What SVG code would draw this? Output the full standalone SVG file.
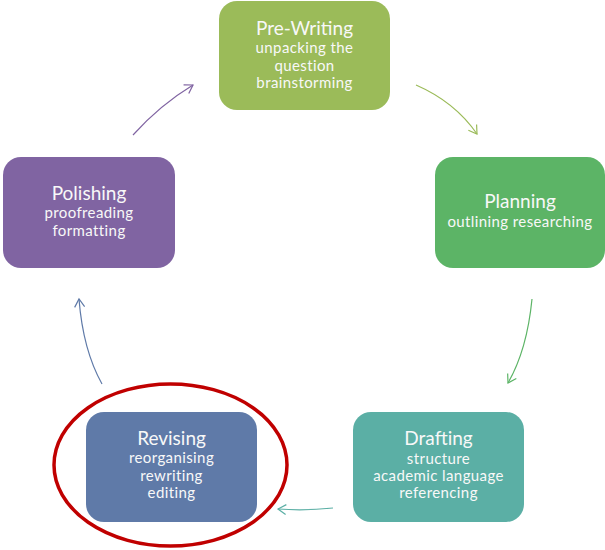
<svg xmlns="http://www.w3.org/2000/svg" width="605" height="550" viewBox="0 0 605 550">
<style>
.box{stroke:none}
.t{font-family:Lato,"Noto Sans",sans-serif;fill:#F8F8F8;text-anchor:middle}
.h{font-size:19px}
.s{font-size:15px;letter-spacing:0.4px}
.c{fill:none;stroke-width:1.2}
</style>
<defs>
<marker id="mG1" markerWidth="12" markerHeight="12" refX="10" refY="6" orient="auto" markerUnits="userSpaceOnUse"><path d="M2,1 L10,6 L2,11" fill="none" stroke="#9BBB59" stroke-width="1.2"/></marker>
<marker id="mG2" markerWidth="12" markerHeight="12" refX="10" refY="6" orient="auto" markerUnits="userSpaceOnUse"><path d="M2,1 L10,6 L2,11" fill="none" stroke="#5CB466" stroke-width="1.2"/></marker>
<marker id="mT" markerWidth="12" markerHeight="12" refX="10" refY="6" orient="auto" markerUnits="userSpaceOnUse"><path d="M2,1 L10,6 L2,11" fill="none" stroke="#5BAFA5" stroke-width="1.2"/></marker>
<marker id="mB" markerWidth="12" markerHeight="12" refX="10" refY="6" orient="auto" markerUnits="userSpaceOnUse"><path d="M2,1 L10,6 L2,11" fill="none" stroke="#5F7AA8" stroke-width="1.2"/></marker>
<marker id="mP" markerWidth="12" markerHeight="12" refX="10" refY="6" orient="auto" markerUnits="userSpaceOnUse"><path d="M2,1 L10,6 L2,11" fill="none" stroke="#8064A2" stroke-width="1.2"/></marker>
</defs>
<rect width="605" height="550" fill="#FFFFFF"/>
<g id="connectors">
<path class="c" d="M416,85 Q455,102 477,134" stroke="#9BBB59" marker-end="url(#mG1)"/>
<path class="c" d="M532,299 Q527,350 508,383" stroke="#5CB466" marker-end="url(#mG2)"/>
<path class="c" d="M333,508 Q305,511 278,509" stroke="#5BAFA5" marker-end="url(#mT)"/>
<path class="c" d="M102,384 Q83,350 79,299" stroke="#5F7AA8" marker-end="url(#mB)"/>
<path class="c" d="M133,135 Q160,105 193,85" stroke="#8064A2" marker-end="url(#mP)"/>
</g>
<g id="prewriting">
<rect class="box" x="219" y="1" width="171" height="109" rx="18" fill="#9BBB59"/>
<text class="t h" x="304.5" y="35">Pre-Writing</text>
<text class="t s" x="304.5" y="53">unpacking the</text>
<text class="t s" x="304.5" y="71">question</text>
<text class="t s" x="304.5" y="88">brainstorming</text>
</g>
<g id="planning">
<rect class="box" x="435" y="157" width="170" height="111" rx="18" fill="#5CB466"/>
<text class="t h" x="520" y="208">Planning</text>
<text class="t s" x="520" y="227">outlining researching</text>
</g>
<g id="drafting">
<rect class="box" x="353" y="412" width="171" height="110" rx="18" fill="#5BAFA5"/>
<text class="t h" x="438.5" y="445">Drafting</text>
<text class="t s" x="438.5" y="464">structure</text>
<text class="t s" x="438.5" y="481">academic language</text>
<text class="t s" x="438.5" y="498">referencing</text>
</g>
<g id="revising">
<rect class="box" x="86" y="412" width="171" height="110" rx="18" fill="#5F7AA8"/>
<text class="t h" x="171.5" y="445">Revising</text>
<text class="t s" x="171.5" y="463">reorganising</text>
<text class="t s" x="171.5" y="481">rewriting</text>
<text class="t s" x="171.5" y="498">editing</text>
</g>
<g id="polishing">
<rect class="box" x="3" y="157" width="172" height="111" rx="18" fill="#8064A2"/>
<text class="t h" x="89" y="200">Polishing</text>
<text class="t s" x="89" y="218">proofreading</text>
<text class="t s" x="89" y="236">formatting</text>
</g>
<ellipse id="highlight" cx="170.5" cy="465" rx="116.5" ry="81" fill="none" stroke="#C00000" stroke-width="3.5"/>
</svg>
